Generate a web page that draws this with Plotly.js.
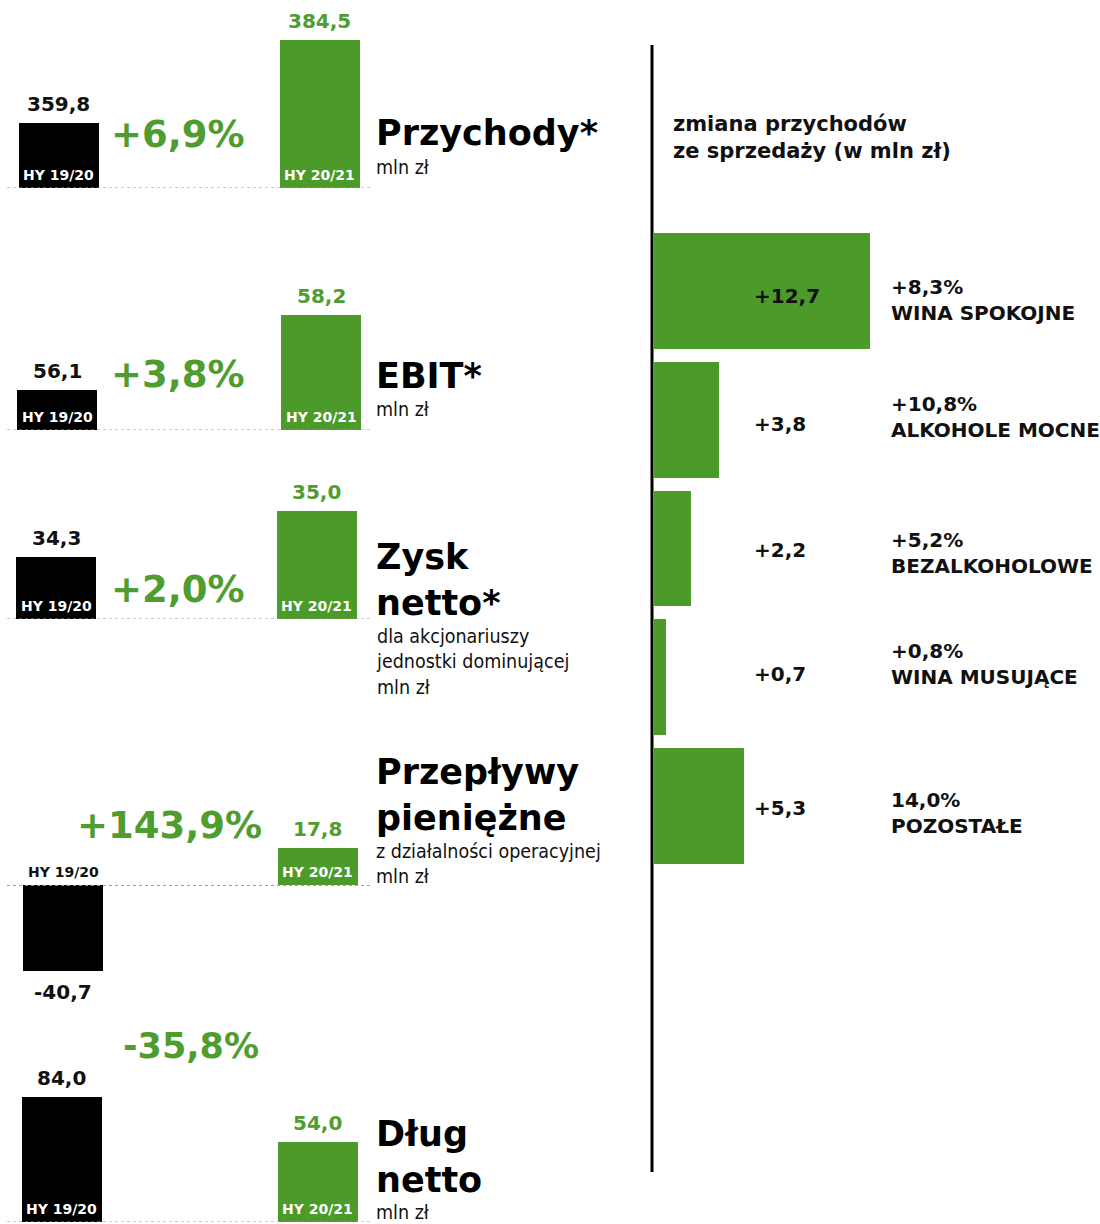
<!DOCTYPE html>
<html>
<head>
<meta charset="utf-8">
<script src="https://cdn.plot.ly/plotly-3.0.1.min.js"></script>
<style>
html,body{margin:0;padding:0;background:#fff;}
#chart{width:1100px;height:1224px;}
</style>
</head>
<body>
<div id="chart"></div>
<script>
// ---------- DATA ----------
const periods = ['HY 19/20', 'HY 20/21'];
const metricTitles = ['Przychody*', 'EBIT*', 'Zysk<br>netto*', 'Przepływy<br>pieniężne', 'Dług<br>netto'];
const metricSubtitles = ['mln zł', 'mln zł', 'dla akcjonariuszy<br>jednostki dominującej<br>mln zł', 'z działalności operacyjnej<br>mln zł', 'mln zł'];
const prevValues = [359.8, 56.1, 34.3, -40.7, 84.0];
const currValues = [384.5, 58.2, 35.0, 17.8, 54.0];
const changeLabels = ['+6,9%', '+3,8%', '+2,0%', '+143,9%', '-35,8%'];

const segments = ['WINA SPOKOJNE', 'ALKOHOLE MOCNE', 'BEZALKOHOLOWE', 'WINA MUSUJĄCE', 'POZOSTAŁE'];
const segmentChange = [12.7, 3.8, 2.2, 0.7, 5.3];
const segmentPct = ['+8,3%', '+10,8%', '+5,2%', '+0,8%', '14,0%'];
const rightHeader = 'zmiana przychodów<br>ze sprzedaży (w mln zł)';

// ---------- STYLE / LAYOUT ----------
const W = 1100, H = 1224;
const GREEN = '#4b9a2a';
const GREEN_TXT = '#4f9d2f';
const FONT = 'DejaVu Sans, Verdana, sans-serif';
const FONT_C = 'DejaVu Sans Condensed, DejaVu Sans, sans-serif';
const px = x => x / W;
const py = y => 1 - y / H;
const fmt = v => v.toFixed(1).replace('.', ',');
const fmtSigned = v => (v > 0 ? '+' : '') + fmt(v);

// per-panel geometry (pixels) and value ranges
const panels = [
  {top: 40,   bottom: 188,  range: [340.5, 384.5], cx: [58.5, 319.5], change: [178, 134], csize: 37, title: 133, sub: 168},
  {top: 315,  bottom: 430,  range: [55.0, 58.2],   cx: [57, 321],     change: [178, 374], csize: 37, title: 376, sub: 410},
  {top: 511,  bottom: 619,  range: [33.36, 35.0],  cx: [56, 316.5],   change: [178, 589], csize: 37, title: 580, sub: 662},
  {top: 848,  bottom: 971,  range: [-40.7, 17.8],  cx: [63, 317.5],   change: [169, 825], csize: 37, title: 795, sub: 864},
  {top: 1097, bottom: 1222, range: [0, 84.0],      cx: [61.5, 317.5], change: [191, 1046], csize: 35, title: 1157, sub: 1212}
];
// right panel label vertical offsets (px, down positive) relative to bar centre
const valueOffsets = [5, 4.5, 1, -3, 2];
const nameOffsets = [9, -2.5, 4, -13, 7];

const data = [];
const layout = {
  width: W, height: H,
  margin: {l: 0, r: 0, t: 0, b: 0},
  paper_bgcolor: '#fff', plot_bgcolor: 'rgba(0,0,0,0)',
  showlegend: false,
  bargap: 0,
  annotations: [],
  shapes: []
};

panels.forEach((p, i) => {
  const n = i + 1;
  const xa = 'x' + n, ya = 'y' + n;
  const xk = 'xaxis' + (n === 1 ? '' : n), yk = 'yaxis' + (n === 1 ? '' : n);
  const vals = [prevValues[i], currValues[i]];
  const unit = p.cx[1] - p.cx[0];
  data.push({
    type: 'bar', x: periods, y: vals, xaxis: xa, yaxis: ya,
    width: 80 / unit,
    marker: {color: ['#000000', GREEN], line: {width: 0}},
    hoverinfo: 'skip'
  });
  layout[xk] = {domain: [0, px(380)], range: [-p.cx[0] / unit, (380 - p.cx[0]) / unit], type: 'category', visible: false, fixedrange: true};
  layout[yk] = {domain: [py(p.bottom), py(p.top)], range: p.range, visible: false, fixedrange: true};
  const base = p.range[0] < 0 ? 0 : p.range[0];

  // dotted baseline
  layout.shapes.push({type: 'line', xref: 'paper', yref: ya, x0: px(7), x1: px(372), y0: base, y1: base,
    line: {color: '#9a9a9a', width: 1, dash: 'dot'}});

  vals.forEach((v, j) => {
    // value label
    layout.annotations.push({
      xref: xa, yref: ya, x: periods[j], y: v, text: '<b>' + fmt(v) + '</b>', showarrow: false,
      yanchor: 'middle', yshift: v >= 0 ? 19 : -21,
      font: {family: FONT, size: 20, color: j === 0 ? '#111' : GREEN_TXT}
    });
    // period label
    layout.annotations.push({
      xref: xa, yref: ya, x: periods[j], y: base, text: '<b>' + periods[j] + '</b>', showarrow: false,
      yanchor: 'middle', yshift: 13,
      font: {family: FONT, size: 14, color: v >= 0 ? '#fff' : '#111'}
    });
  });

  // change label
  layout.annotations.push({
    xref: 'paper', yref: 'paper', x: px(p.change[0]), y: py(p.change[1]), xanchor: 'center', yanchor: 'middle',
    text: '<b>' + changeLabels[i] + '</b>', showarrow: false,
    font: {family: FONT, size: p.csize, color: GREEN_TXT}
  });
  // metric title
  layout.annotations.push({
    xref: 'paper', yref: 'paper', x: px(374), y: py(p.title), xanchor: 'left', yanchor: 'middle', align: 'left',
    text: '<b>' + metricTitles[i] + '</b>', showarrow: false,
    font: {family: FONT, size: 35, color: '#000'}
  });
  layout.annotations.push({
    xref: 'paper', yref: 'paper', x: px(374), y: py(p.sub), xanchor: 'left', yanchor: 'middle', align: 'left',
    text: metricSubtitles[i], showarrow: false,
    font: {family: FONT_C, size: 19.5, color: '#111'}
  });
});

// ---------- RIGHT PANEL ----------
data.push({
  type: 'bar', orientation: 'h', x: segmentChange, y: segments, xaxis: 'x6', yaxis: 'y6',
  width: 0.9,
  marker: {color: GREEN, line: {width: 0}}, hoverinfo: 'skip'
});
layout.xaxis6 = {domain: [px(654), 1], range: [0, 446 / 17], visible: false, fixedrange: true};
layout.yaxis6 = {domain: [py(870.4), py(226.6)], type: 'category', categoryorder: 'array', categoryarray: segments,
  range: [4.5, -0.5], visible: false, fixedrange: true};

segments.forEach((s, k) => {
  layout.annotations.push({
    xref: 'paper', yref: 'y6', x: px(752), y: s, xanchor: 'left', yanchor: 'middle', yshift: -valueOffsets[k],
    text: '<b>' + fmtSigned(segmentChange[k]) + '</b>', showarrow: false,
    font: {family: FONT, size: 20, color: '#111'}
  });
  layout.annotations.push({
    xref: 'paper', yref: 'y6', x: px(889), y: s, xanchor: 'left', yanchor: 'middle', align: 'left', yshift: -nameOffsets[k],
    text: '<b>' + segmentPct[k] + '<br>' + s + '</b>', showarrow: false,
    font: {family: FONT, size: 20, color: '#111'}
  });
});

layout.annotations.push({
  xref: 'paper', yref: 'paper', x: px(671), y: py(137), xanchor: 'left', yanchor: 'middle', align: 'left',
  text: '<b>' + rightHeader + '</b>', showarrow: false,
  font: {family: FONT, size: 21, color: '#111'}
});

// vertical divider
layout.shapes.push({type: 'line', xref: 'paper', yref: 'paper', x0: px(652), x1: px(652), y0: py(45), y1: py(1172),
  line: {color: '#000', width: 3}});

Plotly.newPlot('chart', data, layout, {staticPlot: true, displayModeBar: false});
</script>
</body>
</html>
